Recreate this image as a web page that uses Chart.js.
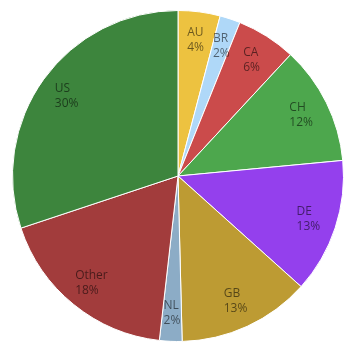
<!DOCTYPE html>
<html>
<head>
<meta charset="utf-8">
<script src="https://cdn.jsdelivr.net/npm/chart.js@4.4.1/dist/chart.umd.min.js"></script>
<style>
  html, body { margin: 0; padding: 0; background: #fff; }
  #wrap { width: 361px; height: 356px; }
</style>
</head>
<body>
<div id="wrap"><canvas id="c" width="361" height="356"></canvas></div>
<script>
const categories = ["AU", "BR", "CA", "CH", "DE", "GB", "NL", "Other", "US"];
const shares = [4.1, 2.0, 5.8, 11.6, 13.15, 12.95, 2.2, 18.1, 30.1];
const sliceColors = ["#edc240", "#afd8f8", "#cb4b4b", "#4da74d", "#9440ed", "#bd9b33", "#8cacc6", "#a23c3c", "#3d853d"];

const labelPlugin = {
  id: 'sliceLabels',
  afterDatasetsDraw(chart) {
    const ctx = chart.ctx;
    const meta = chart.getDatasetMeta(0);
    const data = chart.data.datasets[0].data;
    const total = data.reduce((a, b) => a + b, 0);
    ctx.save();
    ctx.font = '12px "Open Sans", sans-serif';
    ctx.fillStyle = 'rgba(0,0,0,0.55)';
    ctx.textBaseline = 'middle';
    ctx.textAlign = 'left';
    const lineH = 15;
    meta.data.forEach((arc, i) => {
      const p = arc.getProps(['x', 'y', 'startAngle', 'endAngle', 'outerRadius'], true);
      const mid = (p.startAngle + p.endAngle) / 2;
      const r = p.outerRadius * 0.83;
      const cx = p.x + Math.cos(mid) * r;
      const cy = p.y + Math.sin(mid) * r;
      const l1 = chart.data.labels[i];
      const l2 = Math.round(data[i] / total * 100) + '%';
      const w = Math.max(ctx.measureText(l1).width, ctx.measureText(l2).width);
      const left = cx - w / 2;
      ctx.fillText(l1, left, cy - lineH / 2);
      ctx.fillText(l2, left, cy + lineH / 2);
    });
    ctx.restore();
  }
};

new Chart(document.getElementById('c'), {
  type: 'pie',
  data: {
    labels: categories,
    datasets: [{
      data: shares,
      backgroundColor: sliceColors,
      borderColor: '#ffffff',
      borderWidth: 1
    }]
  },
  options: {
    responsive: false,
    animation: false,
    layout: { padding: { left: 12, top: 10, right: 17, bottom: 14 } },
    plugins: {
      legend: { display: false },
      tooltip: { enabled: false }
    }
  },
  plugins: [labelPlugin]
});
</script>
</body>
</html>
